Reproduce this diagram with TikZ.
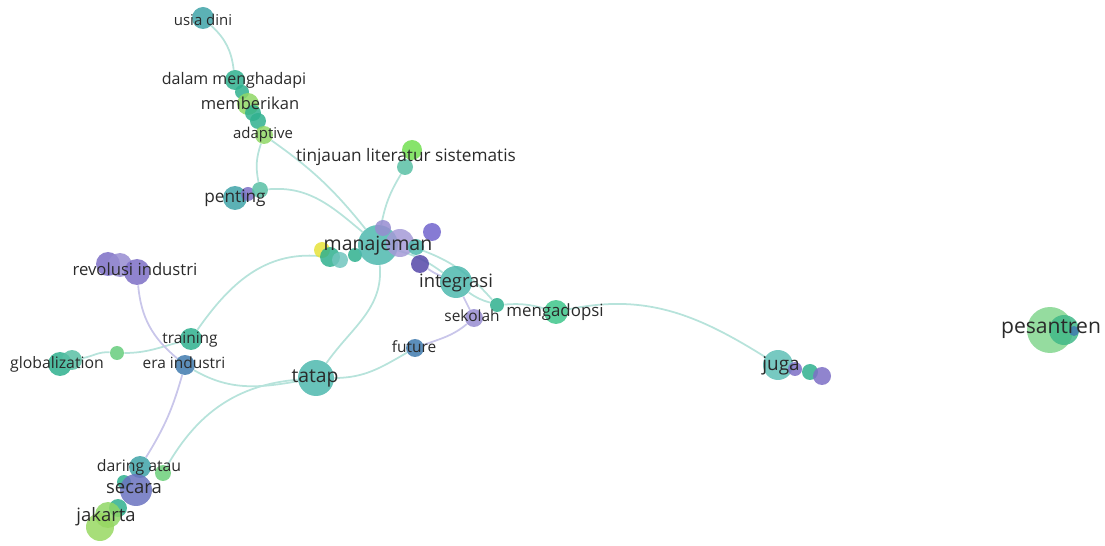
\documentclass[tikz,border=0pt]{standalone}
\usepackage{fontspec}
\setmainfont{Open Sans}
\usetikzlibrary{backgrounds}
\definecolor{linkc}{HTML}{B7E3DB}
\definecolor{linkp}{HTML}{C9C6EA}
\definecolor{labc}{HTML}{2A2A2A}
\definecolor{tealc}{HTML}{4DB8AE}
\definecolor{tealg}{HTML}{2FB08E}
\definecolor{tealb}{HTML}{3FA3A8}
\definecolor{greenc}{HTML}{6CCF7A}
\definecolor{limec}{HTML}{8FD765}
\definecolor{purpc}{HTML}{7D6FC6}
\definecolor{purpd}{HTML}{5547A8}
\definecolor{bluec}{HTML}{3F7AAE}
\definecolor{yellc}{HTML}{E6E23A}
\newcommand{\labsize}[1]{\fontsize{#1}{#1}\selectfont}
\begin{document}
\begin{tikzpicture}[x=0.02cm, y=-0.02cm]
  \tikzset{
    bub/.style 2 args={circle, fill=#1, fill opacity=.85, draw=none, inner sep=0pt, minimum size=#2*0.04cm},
    lab/.style={font=\labsize{#1}, text=labc, inner sep=0pt, text height=0.72em, text depth=0.2em},
    link/.style={draw=linkc, line width=1pt},
    linkpur/.style={draw=linkp, line width=1pt}
  }
  \useasboundingbox (0,0) rectangle (1105,546);

  \node[bub={tealb}{11}] (usia) at (203,18) {};
  \node[bub={tealg}{10}] (dalam) at (235,80) {};
  \node[bub={tealg}{7}] (dalam-2) at (242,92) {};
  \node[bub={limec}{11}] (memberikan) at (248,104) {};
  \node[bub={tealg}{8}] (memberikan-2) at (253,113) {};
  \node[bub={tealg}{8}] (memberikan-3) at (258,121) {};
  \node[bub={limec}{9}] (adaptive) at (264,135) {};
  \node[bub={limec!80!green}{10}] (tinjauan) at (412,150) {};
  \node[bub={tealg!80!white}{8}] (tinjauan-2) at (405,167) {};
  \node[bub={tealb}{12}] (penting) at (235,198) {};
  \node[bub={purpc}{7}] (penting-2) at (248,194) {};
  \node[bub={tealg!80!white}{8}] (penting-3) at (260,190) {};

  \node[bub={yellc}{8}] (man-y) at (322,250) {};
  \node[bub={tealg}{10}] (man-a) at (330,257) {};
  \node[bub={tealc!80!white}{8}] (man-b) at (340,260) {};
  \node[bub={tealg}{7}] (man-c) at (355,255) {};
  \node[bub={tealc}{20}] (manajeman) at (378,245) {};
  \node[bub={purpc!80!white}{8}] (man-d) at (383,228) {};
  \node[bub={purpc!70!white}{14}] (man-e) at (400,243) {};
  \node[bub={tealc}{8}] (man-f) at (416,247) {};
  \node[bub={purpc!90!blue}{9}] (man-g) at (432,232) {};
  \node[bub={purpd}{9}] (man-h) at (420,264) {};

  \node[bub={tealc}{16}] (integrasi) at (456,282) {};
  \node[bub={purpc!80!white}{9}] (sekolah) at (474,318) {};
  \node[bub={tealg}{7}] (adopsi-2) at (497,305) {};
  \node[bub={tealc!80!green}{12}] (mengadopsi) at (556,312) {};
  \node[bub={bluec}{9}] (future) at (415,348) {};
  \node[bub={tealc}{18}] (tatap) at (316,378) {};

  \node[bub={tealg}{11}] (training) at (191,339) {};
  \node[bub={bluec}{10}] (era) at (185,365) {};
  \node[bub={greenc!90!tealg}{7}] (glob-2) at (117,353) {};
  \node[bub={tealg}{12}] (globalization) at (60,364) {};
  \node[bub={tealg!80!white}{10}] (glob-3) at (72,360) {};
  \node[bub={purpc}{12}] (revolusi-2) at (108,264) {};
  \node[bub={purpc!80!white}{12}] (revolusi-3) at (120,265) {};
  \node[bub={purpc}{13}] (revolusi) at (137,272) {};

  \node[bub={tealb}{11}] (daring) at (140,467) {};
  \node[bub={greenc}{8}] (daring-2) at (163,473) {};
  \node[bub={tealg}{7}] (secara-2) at (124,482) {};
  \node[bub={purpc!70!bluec}{16}] (secara) at (136,490) {};
  \node[bub={tealg}{9}] (jakarta-3) at (118,508) {};
  \node[bub={limec}{13}] (jakarta-2) at (108,515) {};
  \node[bub={limec!90!yellc}{14}] (jakarta) at (100,527) {};

  \node[bub={tealc!90!white}{15}] (juga) at (778,365) {};
  \node[bub={purpc}{7}] (juga-2) at (795,369) {};
  \node[bub={tealg}{8}] (juga-3) at (810,372) {};
  \node[bub={purpc}{9}] (juga-4) at (822,376) {};

  \node[bub={greenc!85!white}{23}] (pesantren) at (1050,330) {};
  \node[bub={tealg!70!greenc}{15}] (pesantren-2) at (1064,330) {};
  \node[bub={bluec}{5}] (pesantren-3) at (1074,331) {};

  \begin{scope}[on background layer]
    \draw[link] (usia) to[bend left=20] (dalam);
    \draw[link] (adaptive) to[bend left=8] (manajeman);
    \draw[link] (adaptive) to[bend right=15] (penting-3);
    \draw[link] (penting-3) to[out=5, in=140] (manajeman);
    \draw[link] (tinjauan-2) to[bend right=10] (manajeman);
    \draw[link] (man-a) to[out=175, in=55] (training);
    \draw[link] (training) to[out=195, in=0] (glob-2);
    \draw[link] (glob-2) to[out=175, in=10] (glob-3);
    \draw[linkpur] (revolusi) to[out=-85, in=140] (era);
    \draw[link] (era) to[out=-30, in=190] (tatap);
    \draw[linkpur] (era) to[bend left=8] (daring);
    \draw[link] (tatap) to[out=185, in=60] (daring-2);
    \draw[link] (manajeman) to[out=-85, in=55] (tatap);
    \draw[link] (tatap) to[out=0, in=210] (future);
    \draw[linkpur] (future) to[out=20, in=220] (sekolah);
    \draw[linkpur] (integrasi) -- (sekolah);
    \draw[link] (manajeman) to[bend left=10] (integrasi);
    \draw[linkpur] (man-h) to[bend right=5] (integrasi);
    \draw[link] (man-e) to[bend left=15] (adopsi-2);
    \draw[link] (integrasi) to[bend right=10] (adopsi-2);
    \draw[link] (adopsi-2) to[bend left=10] (mengadopsi);
    \draw[link] (mengadopsi) to[out=12, in=148] (juga);
  \end{scope}

  \node[lab=8.5] (l-usia) at (203,21) {usia dini};
  \node[lab=9.1] (l-dalam) at (234,80) {dalam menghadapi};
  \node[lab=9.4] (l-memberikan) at (250,105) {memberikan};
  \node[lab=8.5] (l-adaptive) at (263,134) {adaptive};
  \node[lab=9.8] (l-tinjauan) at (406,157) {tinjauan literatur sistematis};
  \node[lab=9.8] (l-penting) at (235,198) {penting};
  \node[lab=11.1] (l-manajeman) at (378,246) {manajeman};
  \node[lab=10.5] (l-integrasi) at (456,283) {integrasi};
  \node[lab=8.8] (l-sekolah) at (472,317) {sekolah};
  \node[lab=9.6] (l-mengadopsi) at (555,312) {mengadopsi};
  \node[lab=8.8] (l-future) at (414,348) {future};
  \node[lab=11] (l-tatap) at (315,378) {tatap};
  \node[lab=9.5] (l-revolusi) at (135,271) {revolusi industri};
  \node[lab=8.8] (l-training) at (190,339) {training};
  \node[lab=8.8] (l-era) at (184,364) {era industri};
  \node[lab=9] (l-globalization) at (57,364) {globalization};
  \node[lab=9] (l-daring) at (139,467) {daring atau};
  \node[lab=10.5] (l-secara) at (134,489) {secara};
  \node[lab=10.5] (l-jakarta) at (106,517) {jakarta};
  \node[lab=10.8] (l-juga) at (781,366) {juga};
  \node[lab=12] (l-pesantren) at (1051,329) {pesantren};
\end{tikzpicture}
\end{document}
